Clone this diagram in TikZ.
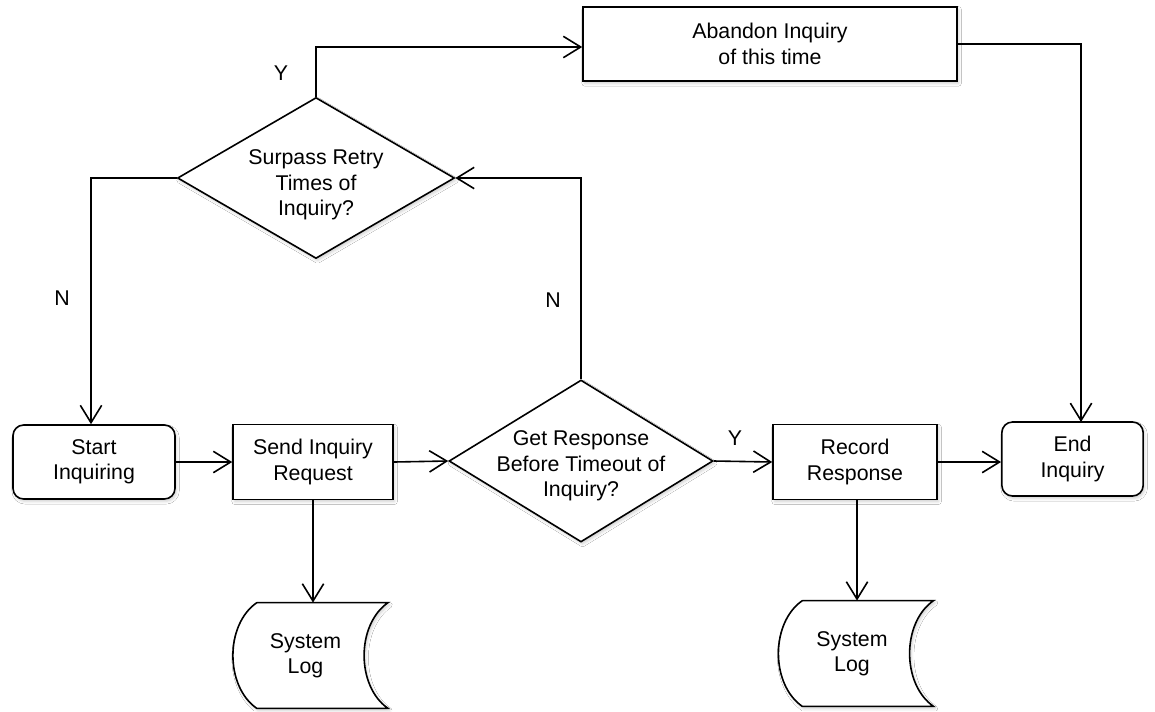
\documentclass[tikz,border=0pt]{standalone}
\usepackage{fontspec}
\setmainfont{Liberation Sans}
\usetikzlibrary{arrows.meta,shapes.geometric,calc,shadows.blur}

\tikzset{
  every node/.style={font=\fontsize{16}{19}\selectfont, align=center},
  soft/.style={blur shadow={shadow xshift=1.2pt, shadow yshift=-1.8pt,
      shadow blur radius=2pt, shadow opacity=18}},
  proc/.style={draw, line width=1.2pt, fill=white, soft, inner sep=0pt},
  term/.style={proc, rounded corners=8pt},
  decision/.style={diamond, draw, line width=1.2pt, fill=white, soft,
      inner sep=0pt, aspect=1.7},
  logbox/.style={inner sep=0pt, minimum width=116pt, minimum height=79pt},
  flow/.style={line width=1.2pt, -{Straight Barb[length=13pt,width=16pt,line width=1.2pt]}},
  tag/.style={inner sep=0pt},
}

% stored-data outline around a named log node
\newcommand{\logoutline}[1]{%
  \draw[line width=1.2pt, fill=white, soft]
    ($(#1.north west)+(24,0)$) -- (#1.north east)
    .. controls ($(#1.north east)+(-32,22)$) and ($(#1.south east)+(-32,-22)$) .. (#1.south east)
    -- ($(#1.south west)+(24,0)$)
    .. controls ($(#1.south west)+(-8,-22)$) and ($(#1.north west)+(-8,22)$) .. ($(#1.north west)+(24,0)$);
}

\begin{document}
\begin{tikzpicture}[x=0.75pt, y=-0.75pt]
  \useasboundingbox[fill=white] (0,0) rectangle (1155,711);

  % process boxes and terminators
  \node[proc, minimum width=280.5pt, minimum height=55.5pt] (abandon) at (770,44) {Abandon Inquiry\\of this time};
  \node[term, minimum width=121.5pt, minimum height=55.5pt] (start) at (94,462) {Start\\Inquiring};
  \node[proc, minimum width=120pt, minimum height=56pt] (send) at (313,462) {Send Inquiry\\Request};
  \node[proc, minimum width=123pt, minimum height=56pt] (record) at (855,462) {Record\\Response};
  \node[term, minimum width=106pt, minimum height=55.5pt] (end) at (1072.5,459) {End\\Inquiry};

  % decisions
  \node[decision, minimum width=207.75pt, minimum height=120.75pt] (d1) at (316,178) {};
  \node at ($(d1)+(0,7)$) {Surpass Retry\\Times of\\Inquiry?};
  \node[decision, minimum width=198pt, minimum height=121.5pt] (d2) at (581,461) {};
  \node at ($(d2)+(0,5)$) {Get Response\\Before Timeout of\\Inquiry?};

  % system logs
  \node[logbox] (log1) at (310.5,655.5) {};
  \logoutline{log1}
  \node at ($(log1)+(-5,0)$) {System\\Log};
  \node[logbox] (log2) at (856,653.5) {};
  \logoutline{log2}
  \node at ($(log2)+(-4,0)$) {System\\Log};

  \coordinate (endin) at (1081,422);
  \coordinate (recout) at ($(record.south)+(2,0)$);
  \coordinate (startin) at ($(start.north)+(-3,0)$);
  \coordinate (abin) at ($(abandon.west)+(0,3)$);

  % connectors
  \draw[flow] (start.east) -- (send.west);
  \draw[flow] (send.east) -- (d2.west);
  \draw[flow] (d2.east) -- (record.west);
  \draw[flow] (record.east) -- (record.east -| end.west);
  \draw[flow] (send.south) -- (send.south |- log1.north);
  \draw[flow] (recout) -- (recout |- log2.north);
  \draw[flow] (d2.north) |- (d1.east);
  \draw[flow] (d1.west) -| (startin);
  \draw[flow] (d1.north) |- (abin);
  \draw[flow] (abandon.east) -| (endin);

  % branch labels
  \node[tag] (ly1) at (281,73) {Y};
  \node[tag] (ln1) at (62,298) {N};
  \node[tag] (ln2) at (553,300) {N};
  \node[tag] (ly2) at (735,438) {Y};
\end{tikzpicture}
\end{document}
